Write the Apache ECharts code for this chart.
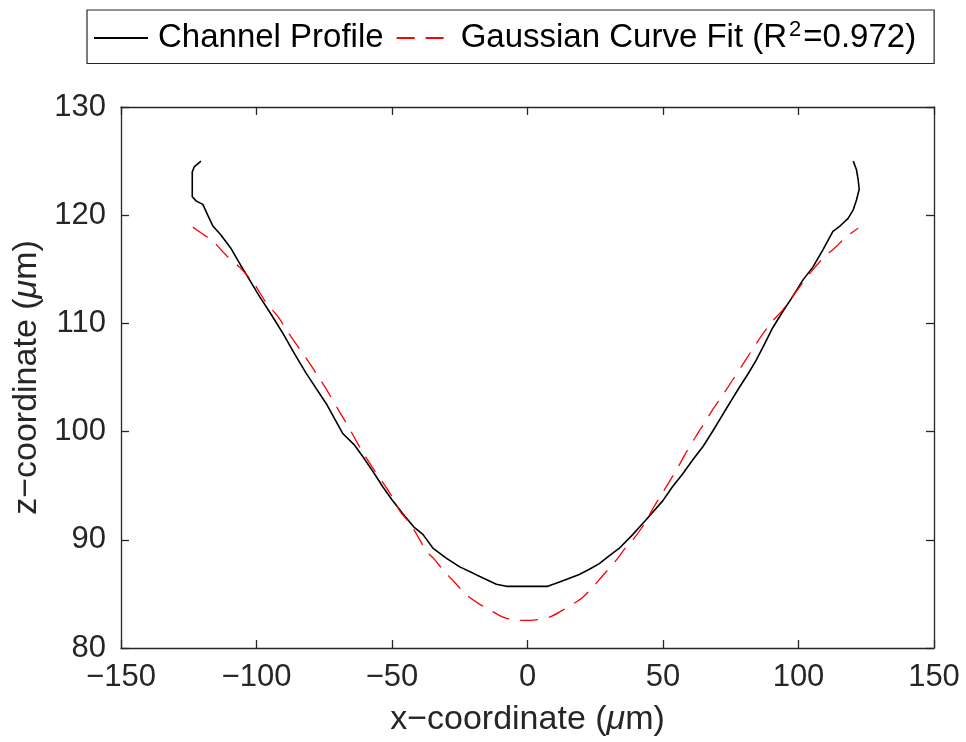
<!DOCTYPE html>
<html><head><meta charset="utf-8">
<script src="https://cdn.jsdelivr.net/npm/echarts@6/dist/echarts.min.js"></script>
<style>html,body{margin:0;padding:0;background:#fff}#c{width:966px;height:742px}</style>
</head><body><div id="c"></div>
<script>
const xTicks = [-150, -100, -50, 0, 50, 100, 150];
const yTicks = [80, 90, 100, 110, 120, 130];
const profileX = [-120.5,-122.9,-123.7,-123.7,-123.7,-122.2,-119.8,-118,-116.1,-113.2,-109.6,-105.9,-102.5,-98.9,-94.5,-90.3,-86,-81.7,-78,-74.3,-68.1,-64,-60.8,-57,-53.4,-50,-46,-42,-38.6,-34.8,-30,-25,-20,-17.6,-11.5,-7.8,0,7.5,11.8,15,19.1,23,26.5,30,33.8,38.9,43.6,49.9,53.5,57.3,61,64.7,68.5,72.1,75,78.2,81.3,84.4,87.5,90.5,94.2,97.9,101.6,105.3,109,112.7,115.3,118.3,120.2,121.4,122.4,122.0,121.4,120.2];
const profileZ = [125.0,124.5,124.0,122.8,121.7,121.3,121.0,120.0,119.0,118.2,117.0,115.4,114.0,112.5,110.8,109.1,107.2,105.4,104.0,102.6,99.8,98.8,97.7,96.3,94.9,93.7,92.4,91.2,90.5,89.2,88.3,87.5,86.9,86.6,85.9,85.7,85.7,85.7,86.1,86.4,86.8,87.3,87.8,88.5,89.2,90.5,91.8,93.6,94.9,96.1,97.4,98.6,100.1,101.6,102.8,104.1,105.3,106.6,108.1,109.6,111.1,112.5,114.0,115.2,116.8,118.5,119.0,119.7,120.5,121.4,122.4,123.3,124.2,125.0];
const fitX = [-123.5,-120.4,-116.1,-111.2,-106.3,-101,-96.4,-92,-88.4,-84,-80.4,-77,-73.7,-70,-66.9,-64,-60.8,-57,-53.4,-50,-47.2,-44,-41.1,-37.4,-34,-31.1,-27,-22.4,-18,-13.8,-9,-5,-1,3,8.1,13,17,20.4,24,27.8,32.7,36,38.9,43.2,46.3,49,52.4,55.5,58.6,62,65.3,68.5,72.1,75.5,78.9,82.5,86.2,90,94.2,99,104.1,109,113.9,117.6,122];
const fitZ = [118.9,118.35,117.6,116.3,115.2,113.7,111.9,110.6,109.2,107.6,106.3,105.0,103.7,102.1,100.8,99.5,98.1,96.6,95.3,94.0,92.7,91.7,90.6,89.0,88.1,87.2,86.1,84.9,84.1,83.5,82.85,82.6,82.55,82.6,82.85,83.5,84.1,84.7,85.6,86.7,88.1,89.2,90.0,91.5,92.9,94.0,95.4,96.7,98.1,99.5,100.8,102.1,103.4,104.7,106.0,107.4,108.8,110.1,111.25,112.9,114.6,116.0,117.1,118.0,118.8];
const seriesNames = ['Channel Profile', 'Gaussian Curve Fit'];

const FONT = 'Liberation Sans';
const AX = '#262626';
const chart = echarts.init(document.getElementById('c'));
const pair = (xs, ys) => xs.map((x, i) => [x, ys[i]]);
const fmtNum = v => (v < 0 ? '\u2212' + Math.abs(v) : String(v));
const axisCommon = {
  axisLine: {show: true, onZero: false, lineStyle: {color: AX, width: 1.3}},
  axisTick: {show: true, inside: true, length: 8, lineStyle: {color: AX, width: 1.3}},
  splitLine: {show: false}
};
const titleStyle = {fontFamily: FONT, fontSize: 34, color: AX,
  rich: {mu: {fontFamily: FONT, fontSize: 34, fontStyle: 'italic', color: AX}}};
chart.setOption({
  animation: false,
  backgroundColor: '#fff',
  grid: {left: 121, right: 32, top: 107, bottom: 94, containLabel: false},
  legend: {
    show: true,
    left: 87, top: 10,
    padding: [9, 18, 9, 6],
    itemGap: 12,
    itemWidth: 54, itemHeight: 14,
    borderColor: AX, borderWidth: 1.2, borderRadius: 0,
    backgroundColor: '#fff',
    itemStyle: {opacity: 0},
    data: seriesNames,
    formatter: n => n === seriesNames[1] ? 'Gaussian Curve Fit (R{sup|2}=0.972)' : n,
    textStyle: {
      fontFamily: FONT, fontSize: 33, color: '#000', padding: [0, 0, 0, 5],
      rich: {sup: {fontFamily: FONT, fontSize: 22, color: '#000', verticalAlign: 'top', padding: [0, 2, 16, 2]}}
    }
  },
  xAxis: [{
    type: 'value', min: -150, max: 150, interval: 50, position: 'bottom',
    ...axisCommon,
    axisLabel: {fontFamily: FONT, fontSize: 31, color: AX, margin: 14, formatter: fmtNum},
    name: 'x\u2212coordinate ({mu|\u03bc}m)', nameLocation: 'middle', nameGap: 55,
    nameTextStyle: titleStyle
  }, {
    type: 'value', min: -150, max: 150, interval: 50, position: 'top',
    ...axisCommon, axisLabel: {show: false}
  }],
  yAxis: [{
    type: 'value', min: 80, max: 130, interval: 10, position: 'left',
    ...axisCommon,
    axisLabel: {fontFamily: FONT, fontSize: 31, color: AX, margin: 15},
    name: 'z\u2212coordinate ({mu|\u03bc}m)', nameLocation: 'middle', nameGap: 74, nameRotate: 90,
    nameTextStyle: titleStyle
  }, {
    type: 'value', min: 80, max: 130, interval: 10, position: 'right',
    ...axisCommon, axisLabel: {show: false}
  }],
  series: [{
    name: seriesNames[0], type: 'line', data: pair(profileX, profileZ),
    xAxisIndex: 0, yAxisIndex: 0, showSymbol: false, symbol: 'none',
    lineStyle: {color: '#000', width: 1.6}, itemStyle: {color: '#000'}
  }, {
    name: seriesNames[1], type: 'line', data: pair(fitX, fitZ),
    xAxisIndex: 0, yAxisIndex: 0, showSymbol: false, symbol: 'none', smooth: 0.3,
    lineStyle: {color: '#ff0000', width: 1.3, type: [18, 11]}, itemStyle: {color: '#ff0000'}
  }]
});
</script></body></html>
